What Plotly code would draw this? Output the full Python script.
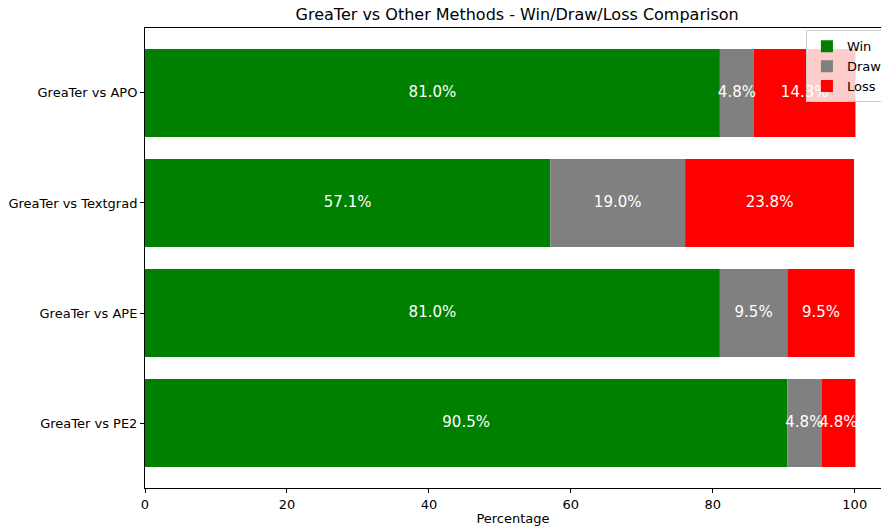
import plotly.graph_objects as go

categories = ["GreaTer vs PE2", "GreaTer vs APE", "GreaTer vs Textgrad", "GreaTer vs APO"]
win = [90.5, 81.0, 57.1, 81.0]
draw = [4.8, 9.5, 19.0, 4.8]
loss = [4.8, 9.5, 23.8, 14.3]
series_names = ["Win", "Draw", "Loss"]
colors = ["#008000", "#808080", "#ff0000"]
x_ticks = [0, 20, 40, 60, 80, 100]

font_family = "DejaVu Sans"
fig = go.Figure()
ypos = list(range(len(categories)))
bases = [0] * len(categories)
for name, vals, col in zip(series_names, [win, draw, loss], colors):
    fig.add_trace(go.Bar(
        y=ypos, x=vals, base=bases, orientation="h", name=name,
        marker=dict(color=col, line=dict(width=0)), width=0.8,
    ))
    centers = [b + v / 2 for b, v in zip(bases, vals)]
    fig.add_trace(go.Scatter(
        x=centers, y=ypos, mode="text", text=[f"{v:.1f}%" for v in vals],
        textfont=dict(color="white", size=15, family=font_family),
        showlegend=False, hoverinfo="skip", cliponaxis=False,
    ))
    bases = [b + v for b, v in zip(bases, vals)]

fig.update_layout(
    width=881, height=529,
    margin=dict(l=145, r=0, t=28, b=41, autoexpand=False),
    plot_bgcolor="white", paper_bgcolor="white",
    font=dict(family=font_family, size=13, color="#000000"),
    title=dict(text="GreaTer vs Other Methods - Win/Draw/Loss Comparison",
               x=0.587, xanchor="center", y=0.972, yanchor="middle",
               font=dict(size=16, family=font_family)),
    barmode="overlay",
    showlegend=True,
    legend=dict(x=0.898, y=0.995, xanchor="left", yanchor="top",
                bgcolor="rgba(255,255,255,0.8)", bordercolor="#cccccc", borderwidth=1,
                font=dict(size=13, family=font_family), traceorder="normal",
                itemsizing="constant", tracegroupgap=0),
)
fig.update_xaxes(range=[0, 103.7], tickvals=x_ticks, ticks="outside", ticklen=4,
                 tickcolor="black", showline=True, linecolor="black", linewidth=1,
                 mirror=True, showgrid=False, zeroline=False,
                 title=dict(text="Percentage", font=dict(size=13), standoff=3))
fig.update_yaxes(range=[-0.59, 3.59], tickvals=ypos, ticktext=categories,
                 ticks="outside", ticklen=4, tickcolor="black", showline=True,
                 linecolor="black", linewidth=1, showgrid=False, zeroline=False)

fig.write_html(
    "out.html",
    config={"displayModeBar": False},
    post_script="document.body.style.margin='0';document.body.style.overflow='hidden';",
)
